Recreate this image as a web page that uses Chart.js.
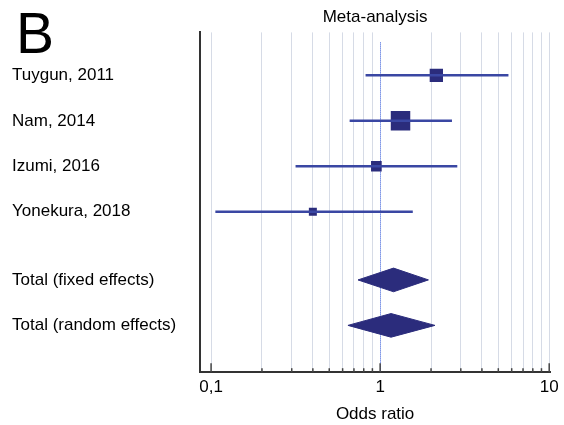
<!DOCTYPE html>
<html>
<head>
<meta charset="utf-8">
<script src="https://cdn.jsdelivr.net/npm/chart.js@4"></script>
<style>
  html, body { margin: 0; padding: 0; background: #fff; }
  #wrap { width: 564px; height: 425px; position: relative; }
</style>
</head>
<body>
<div id="wrap"><canvas id="c" width="564" height="425"></canvas></div>
<script>
// ---- data ----
const studies     = ['Tuygun, 2011', 'Nam, 2014', 'Izumi, 2016', 'Yonekura, 2018'];
const oddsRatio   = [2.15, 1.32, 0.95, 0.40];
const ciLower     = [0.82, 0.66, 0.316, 0.106];
const ciUpper     = [5.74, 2.66, 2.86, 1.56];
const weights     = [24.1, 51.7, 15.5, 8.7];   // relative weight (%)

const totals      = ['Total (fixed effects)', 'Total (random effects)'];
const totalOR     = [1.20, 1.16];
const totalLower  = [0.74, 0.645];
const totalUpper  = [1.93, 2.11];

const xTickValues = [0.1, 1, 10];
const xTickLabels = ['0,1', '1', '10'];
const nullValue   = 1;

// ---- styling ----
const FONT = "'Liberation Sans', Arial, sans-serif";
const markColor = '#2b2c7c';
const ciColor = '#3a47a3';
const gridColor = '#d6dbe6';

const studyRows = studies.map((s, i) => i + 1);
const totalRows = totals.map((s, i) => studies.length + 1.5 + i);
const allRows = studyRows.concat(totalRows);
const allLabels = studies.concat(totals);

// minor log grid values
const gridValues = [];
[0.1, 1].forEach(d => { for (let k = 1; k <= 9; k++) gridValues.push(Number((k * d).toPrecision(6))); });
gridValues.push(10);

const datasets = [];
studies.forEach((s, i) => {
  datasets.push({
    type: 'line',
    data: [{x: ciLower[i], y: studyRows[i]}, {x: ciUpper[i], y: studyRows[i]}],
    borderColor: ciColor, borderWidth: 2.5, pointRadius: 0, fill: false
  });
});
datasets.push({
  type: 'scatter',
  data: studies.map((s, i) => ({x: oddsRatio[i], y: studyRows[i]})),
  pointStyle: 'rect',
  pointRadius: weights.map(w => 2.71 * Math.sqrt(w) / Math.SQRT2),
  backgroundColor: markColor, borderWidth: 0
});
const dh = 0.26;
totals.forEach((t, i) => {
  const r = totalRows[i];
  datasets.push({
    type: 'line',
    data: [
      {x: totalLower[i], y: r}, {x: totalOR[i], y: r - dh},
      {x: totalUpper[i], y: r}, {x: totalOR[i], y: r + dh},
      {x: totalLower[i], y: r}
    ],
    borderColor: markColor, backgroundColor: markColor, borderWidth: 1,
    pointRadius: 0, fill: 'shape', tension: 0
  });
});

const near = (a, b) => Math.abs(a - b) < 1e-9;

const extras = {
  id: 'extras',
  beforeDatasetsDraw(chart) {
    const {ctx, chartArea, scales} = chart;
    const x = scales.x.getPixelForValue(nullValue);
    ctx.save();
    ctx.strokeStyle = '#2f55d8';
    ctx.lineWidth = 1;
    ctx.setLineDash([1, 1]);
    ctx.beginPath();
    ctx.moveTo(Math.round(x) + 0.5, chartArea.top + 10);
    ctx.lineTo(Math.round(x) + 0.5, chartArea.bottom);
    ctx.stroke();
    ctx.restore();
  },
  afterDraw(chart) {
    const {ctx, chartArea, scales} = chart;
    ctx.save();
    ctx.strokeStyle = '#444';
    ctx.lineWidth = 1.5;
    gridValues.forEach(v => {
      const x = scales.x.getPixelForValue(v);
      const major = xTickValues.some(t => near(t, v));
      ctx.beginPath();
      ctx.moveTo(x, chartArea.bottom);
      ctx.lineTo(x, chartArea.bottom - (major ? 9 : 4));
      ctx.stroke();
    });
    ctx.fillStyle = '#000';
    ctx.font = "57px " + FONT;
    ctx.textBaseline = 'alphabetic';
    ctx.textAlign = 'left';
    ctx.fillText('B', 16, 53);
    ctx.restore();
  }
};

new Chart(document.getElementById('c'), {
  type: 'line',
  data: { datasets },
  options: {
    responsive: false,
    animation: false,
    events: [],
    layout: { padding: { left: 12, right: 12, top: 1, bottom: 0 } },
    plugins: { legend: { display: false }, tooltip: { enabled: false } },
    scales: {
      x: {
        type: 'logarithmic',
        position: 'bottom',
        min: 0.086, max: 10.14,
        afterBuildTicks: (s) => { s.ticks = gridValues.map(v => ({value: v})); },
        afterFit: (s) => { s.paddingRight = 0; s.paddingLeft = 0; },
        ticks: {
          autoSkip: false, maxRotation: 0, padding: 5,
          color: '#000', font: { family: FONT, size: 17 },
          callback: (v) => {
            const idx = xTickValues.findIndex(t => near(t, v));
            return idx >= 0 ? xTickLabels[idx] : '';
          }
        },
        grid: {
          drawTicks: false,
          color: (c) => (c.tick && near(c.tick.value, nullValue)) ? 'rgba(0,0,0,0)' : gridColor,
          lineWidth: 1
        },
        border: { display: true, color: '#333', width: 2 },
        title: { display: true, text: 'Odds ratio', color: '#000', font: { family: FONT, size: 17 }, padding: { top: 2, bottom: 0 } }
      },
      xTop: {
        type: 'linear', axis: 'x', position: 'top', display: true,
        ticks: { display: false },
        grid: { display: false, drawTicks: false },
        border: { display: false },
        title: { display: true, text: 'Meta-analysis', color: '#000', font: { family: FONT, size: 17 }, padding: { top: 6, bottom: 5 } }
      },
      y: {
        type: 'linear', reverse: true,
        min: 0.055, max: 7.53,
        afterBuildTicks: (s) => { s.ticks = allRows.map(v => ({value: v})); },
        afterFit: (s) => { s.width = 188; },
        ticks: {
          autoSkip: false, crossAlign: 'far', padding: 0,
          color: '#000', font: { family: FONT, size: 17 },
          callback: (v) => {
            const idx = allRows.findIndex(r => near(r, v));
            return idx >= 0 ? allLabels[idx] : '';
          }
        },
        grid: { display: false, drawTicks: false },
        border: { display: true, color: '#333', width: 2 }
      }
    }
  },
  plugins: [extras]
});
</script>
</body>
</html>
